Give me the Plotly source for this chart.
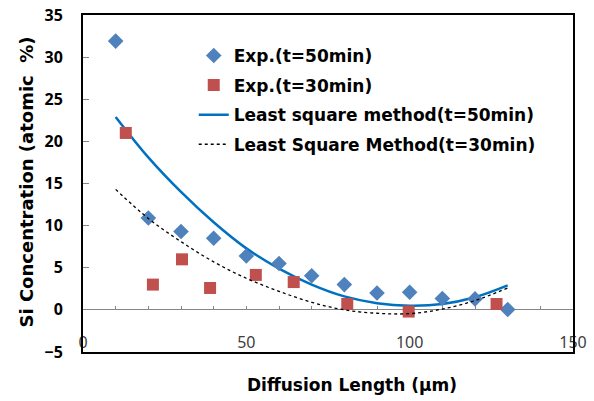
import plotly.graph_objects as go

# ---- data ----
exp50_x = [10, 20, 30, 40, 50, 60, 70, 80, 90, 100, 110, 120, 130]
exp50_y = [31.9, 10.9, 9.3, 8.5, 6.4, 5.5, 4.05, 3.0, 2.0, 2.1, 1.35, 1.3, 0.05]

exp30_x = [13.1, 21.4, 30.3, 38.9, 52.9, 64.5, 80.9, 99.7, 126.6]
exp30_y = [21.0, 3.0, 6.0, 2.6, 4.15, 3.3, 0.7, -0.2, 0.7]

fit_x = [10, 20, 30, 40, 50, 60, 70, 80, 90, 100, 110, 120, 130]
fit50_y = [22.9, 18.1, 14.0, 10.4, 7.3, 4.9, 3.0, 1.6, 0.8, 0.5, 0.7, 1.5, 2.9]
fit30_y = [14.3, 10.85, 8.1, 5.7, 3.75, 2.2, 0.9, 0.0, -0.4, -0.45, 0.1, 1.1, 2.6]

x_ticks = [0, 50, 100, 150]
y_ticks = [-5, 0, 5, 10, 15, 20, 25, 30, 35]

names = ["Exp.(t=50min)", "Exp.(t=30min)",
         "Least square method(t=50min)", "Least Square Method(t=30min)"]
x_title = "Diffusion Length (μm)"
y_title = "Si Concentration (atomic  %)"

FONT = "DejaVu Sans"
FONT_R = "Noto Sans"
GRAY = "#868686"

fig = go.Figure()
fig.add_trace(go.Scatter(x=fit_x, y=fit50_y, mode="lines", name=names[2],
                         line=dict(color="#0070C0", width=2.5, shape="spline"),
                         legendgroup="c", legendrank=3))
fig.add_trace(go.Scatter(x=exp50_x, y=exp50_y, mode="markers", name=names[0],
                         marker=dict(symbol="diamond", size=12, color="#4F81BD"),
                         legendgroup="a", legendrank=1))
fig.add_trace(go.Scatter(x=exp30_x, y=exp30_y, mode="markers", name=names[1],
                         marker=dict(symbol="square", size=12, color="#C0504D"),
                         legendgroup="b", legendrank=2))
fig.add_trace(go.Scatter(x=fit_x, y=fit30_y, mode="lines", name=names[3],
                         xaxis="x2",
                         line=dict(color="#000000", width=1.3, dash="3px,3px", shape="spline"),
                         legendgroup="d", legendrank=4))

fig.update_layout(
    width=594, height=401,
    margin=dict(l=83, r=21, t=15, b=49, autoexpand=False),
    paper_bgcolor="white", plot_bgcolor="white",
    font=dict(family=FONT, color="#000000"),
    showlegend=True,
    legend=dict(x=0.226, y=0.932, xanchor="left", yanchor="top",
                font=dict(family=FONT, size=17, color="#000000", weight="bold"),
                bgcolor="rgba(0,0,0,0)", traceorder="grouped", tracegroupgap=4.5,
                itemwidth=30),
    xaxis=dict(range=[0, 150], tickvals=x_ticks, ticks="", showticklabels=False,
               showgrid=False, zeroline=False, showline=True, linecolor="#000000",
               linewidth=2, mirror=True, automargin=False),
    xaxis2=dict(range=[0, 150], overlaying="x", anchor="free", position=0.125,
                tickvals=x_ticks, ticks="inside", ticklen=4, tickcolor=GRAY,
                minor=dict(dtick=10, tick0=0, ticks="inside", ticklen=4, tickcolor=GRAY),
                showticklabels=True, ticklabelstandoff=21, ticklabeloverflow="allow",
                tickfont=dict(family=FONT_R, size=16, color="#404040"),
                showgrid=False, zeroline=False, showline=False, layer="below traces",
                automargin=False),
    yaxis=dict(range=[-5, 35], tickvals=y_ticks, ticks="inside", ticklen=6,
               tickcolor=GRAY, showgrid=False, zeroline=True,
               zerolinecolor=GRAY, zerolinewidth=1,
               showline=True, linecolor="#000000", linewidth=2, mirror=True,
               ticklabelstandoff=15, ticklabeloverflow="allow", automargin=False,
               tickfont=dict(family=FONT_R, size=16, color="#000000", weight="bold")),
    annotations=[
        dict(text=x_title, xref="paper", yref="paper", x=0.548, y=-0.098,
             xanchor="center", yanchor="middle", showarrow=False,
             font=dict(family=FONT, size=17, color="#000000", weight="bold")),
        dict(text=y_title, xref="paper", yref="paper", x=-0.1163, y=0.503,
             xanchor="center", yanchor="middle", showarrow=False, textangle=-90,
             font=dict(family=FONT, size=18, color="#000000", weight="bold")),
    ],
)

fig.write_html("out.html", config={"displayModeBar": False},
               post_script="document.body.style.margin='0';document.body.style.padding='0';")
